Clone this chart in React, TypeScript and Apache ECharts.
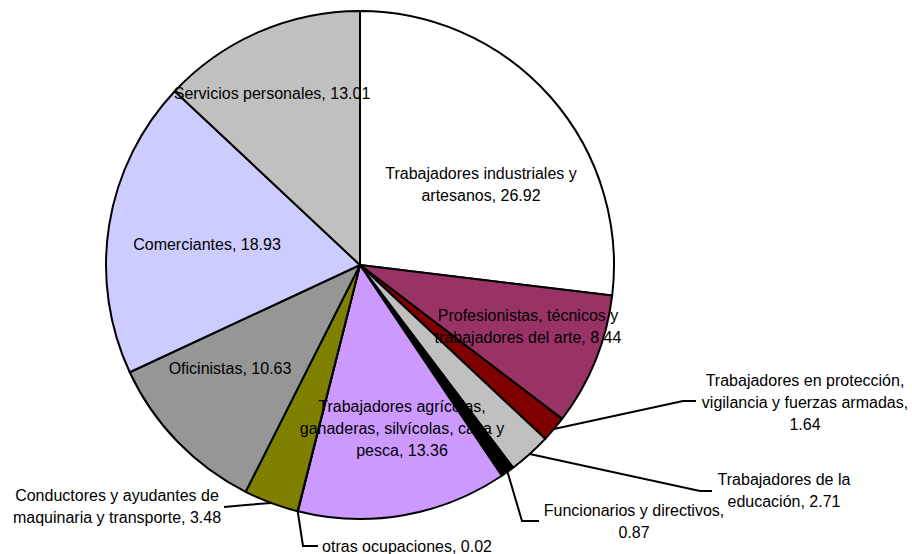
import React, { useEffect, useRef } from "react";
import * as echarts from "echarts";

const categories = [
  "Trabajadores industriales y artesanos",
  "Profesionistas, técnicos y trabajadores del arte",
  "Trabajadores en protección, vigilancia y fuerzas armadas",
  "Trabajadores de la educación",
  "Funcionarios y directivos",
  "Trabajadores agrícolas, ganaderas, silvícolas, caza y pesca",
  "otras ocupaciones",
  "Conductores y ayudantes de maquinaria y transporte",
  "Oficinistas",
  "Comerciantes",
  "Servicios personales",
];
const values = [26.92, 8.44, 1.64, 2.71, 0.87, 13.36, 0.02, 3.48, 10.63, 18.93, 13.01];

// styling
const colors = ["#FFFFFF", "#993366", "#800000", "#C0C0C0", "#000000", "#CC99FF", "#FFFFFF", "#808000", "#969696", "#CCCCFF", "#C0C0C0"];
const outside = [false, false, true, true, true, false, true, true, false, false, false];
const lineBreaks = [[3], [3], [3, 7], [3], [3], [2, 6], [], [4], [], [], []];
const labelAnchors = [
  [481, 184], [528, 326], [805, 402], [784, 490], [634, 521], [402, 428],
  [407, 546], [117, 506], [230, 368], [207, 244], [272, 93],
];
const leaderBends = [
  null, null, [[683, 401], [696, 401]], [[700, 491], [712, 491]], [[522, 521], [539, 521]], null,
  [[303, 546], [318, 546]], [[246, 505], [224, 507]], null, null, null,
];
const CX = 360, CY = 265, R = 254;

function formatLabel(i: number): string {
  const words = `${categories[i]}, ${values[i]}`.split(" ");
  const br = lineBreaks[i];
  let out = "";
  words.forEach((w, k) => {
    if (k > 0) out += br.includes(k) ? "\n" : " ";
    out += w;
  });
  return out;
}

export default function App() {
  const ref = useRef<HTMLDivElement>(null);
  useEffect(() => {
    if (!ref.current) return;
    const chart = echarts.init(ref.current, undefined, { renderer: "svg" });
    const total = values.reduce((a, b) => a + b, 0);
    const mids: number[] = [];
    let acc = 0;
    values.forEach((v) => {
      mids.push(((acc + v / 2) / total) * 2 * Math.PI);
      acc += v;
    });
    chart.setOption({
      animation: false,
      backgroundColor: "#ffffff",
      series: [
        {
          type: "pie",
          center: [CX, CY],
          radius: [0, R],
          startAngle: 90,
          clockwise: true,
          avoidLabelOverlap: false,
          itemStyle: { borderColor: "#000", borderWidth: 2 },
          label: {
            fontFamily: "Liberation Sans, Arial, sans-serif",
            fontSize: 16,
            lineHeight: 22,
            color: "#000",
            formatter: (p: any) => formatLabel(p.dataIndex),
          },
          labelLine: { lineStyle: { color: "#000", width: 2 } },
          labelLayout: (p: any) => {
            const i = p.dataIndex;
            const a = mids[i];
            const start = [CX + R * Math.sin(a), CY - R * Math.cos(a)];
            const bends = leaderBends[i];
            return {
              x: labelAnchors[i][0],
              y: labelAnchors[i][1],
              align: "center",
              verticalAlign: "middle",
              labelLinePoints: bends ? [start, bends[0], bends[1]] : undefined,
            };
          },
          data: categories.map((name, i) => ({
            name,
            value: values[i],
            itemStyle: { color: colors[i] },
            label: { position: outside[i] ? "outside" : "inside", align: "center" },
            labelLine: { show: outside[i], length: 10, length2: 10 },
          })),
        },
      ],
    });
    return () => chart.dispose();
  }, []);
  return (
    <div
      ref={ref}
      style={{ position: "fixed", left: 0, top: 0, width: 912, height: 554, background: "#fff" }}
    />
  );
}
